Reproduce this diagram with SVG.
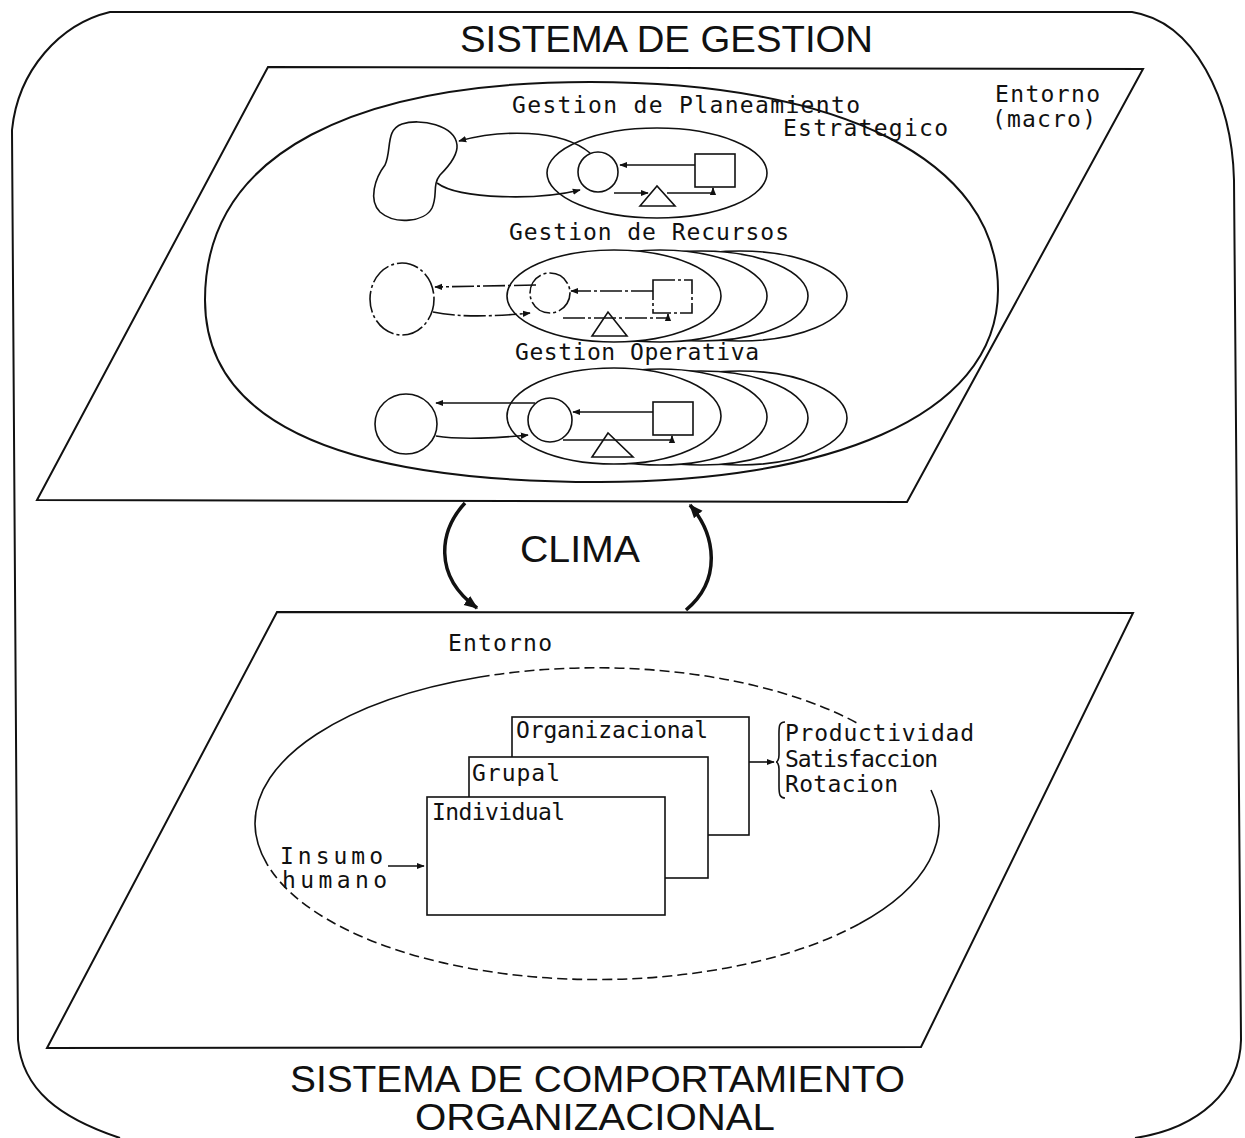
<svg xmlns="http://www.w3.org/2000/svg" width="1245" height="1138" viewBox="0 0 1245 1138">
  <defs>
    <style>
      .ln { fill: none; stroke: #111; stroke-width: 2; }
      .sm { fill: none; stroke: #111; stroke-width: 1.6; }
      .dd { stroke-dasharray: 22 3 3 3; }
      .ds { fill: none; stroke: #111; stroke-width: 1.6; stroke-dasharray: 10 5; }
      .wf { fill: #fff; stroke: #111; stroke-width: 1.6; }
      .title { font-family: "Liberation Sans", Arial, sans-serif; font-size: 36px; fill: #111; }
      .mono { font-family: "DejaVu Sans Mono", "Liberation Mono", monospace; font-size: 23px; fill: #111; }
    </style>
    <marker id="ah" viewBox="0 0 10 10" refX="9" refY="5" markerWidth="8" markerHeight="8" markerUnits="userSpaceOnUse" orient="auto">
      <path d="M0,1 L10,5 L0,9 Z" fill="#111"/>
    </marker>
    <marker id="ahb" viewBox="0 0 10 10" refX="9" refY="5" markerWidth="14" markerHeight="14" markerUnits="userSpaceOnUse" orient="auto">
      <path d="M0,1 L10,5 L0,9 Z" fill="#111"/>
    </marker>
  </defs>
  <rect width="1245" height="1138" fill="#fff"/>

  <!-- outer rounded frame -->
  <g id="frame">
    <path class="ln" d="M120 1138 C60 1118 22 1090 18 1040 L12 130 C18 70 60 24 110 12 L1132 12 C1195 22 1232 100 1234 180 L1241 1040 C1240 1090 1200 1128 1135 1138"/>
  </g>

  <!-- upper plane: management system -->
  <g id="plane-gestion">
    <polygon class="ln" points="268,67 1143,69 907,502 37,500"/>
    <text class="title" x="460" y="52" font-size="38" textLength="413" lengthAdjust="spacingAndGlyphs">SISTEMA DE GESTION</text>
    <path class="ln" d="M205 300 C205 150 360 82 590 82 C840 82 998 160 998 290 C998 420 820 482 600 482 C380 482 205 440 205 300 Z"/>
    <text class="mono" x="995" y="102" textLength="105">Entorno</text>
    <text class="mono" x="992" y="127" textLength="104">(macro)</text>
  </g>

  <!-- strategic planning -->
  <g id="planeamiento">
    <text class="mono" x="512" y="113" textLength="348">Gestion de Planeamiento</text>
    <text class="mono" x="783" y="136" textLength="165">Estrategico</text>
    <path class="sm" d="M457 145 C455 125 420 118 402 124 C385 130 392 150 385 165 C375 178 368 200 380 212 C395 225 425 222 432 208 C438 195 432 185 440 175 C450 165 458 155 457 145 Z"/>
    <ellipse class="sm" cx="657" cy="173" rx="110" ry="45"/>
    <circle class="sm" cx="598" cy="172" r="20"/>
    <rect class="sm" x="695" y="154" width="40" height="33"/>
    <polygon class="sm" points="640,206 657,186 675,206"/>
  </g>

  <!-- resources -->
  <g id="recursos">
    <text class="mono" x="509" y="240" textLength="280">Gestion de Recursos</text>
    <ellipse class="wf" cx="740" cy="296" rx="107" ry="45"/>
    <ellipse class="wf" cx="701" cy="296" rx="107" ry="45"/>
    <ellipse class="wf" cx="660" cy="296" rx="107" ry="46"/>
    <ellipse class="wf" cx="614" cy="296" rx="107" ry="46"/>
    <ellipse class="sm dd" cx="402" cy="299" rx="32" ry="36"/>
    <circle class="sm dd" cx="550" cy="293" r="20"/>
    <rect class="sm dd" x="653" y="280" width="39" height="33"/>
    <polygon class="sm" points="592,336 608,312 627,336"/>
  </g>

  <!-- operations -->
  <g id="operativa">
    <ellipse class="wf" cx="740" cy="418" rx="107" ry="47"/>
    <ellipse class="wf" cx="701" cy="418" rx="107" ry="47"/>
    <ellipse class="wf" cx="660" cy="417" rx="107" ry="48"/>
    <ellipse class="wf" cx="614" cy="416" rx="107" ry="48"/>
    <text class="mono" x="515" y="360" textLength="244">Gestion Operativa</text>
    <ellipse class="sm" cx="406" cy="424" rx="31" ry="30"/>
    <circle class="sm" cx="550" cy="420" r="22"/>
    <rect class="sm" x="653" y="402" width="40" height="33"/>
    <polygon class="sm" points="592,457 608,433 633,457"/>
  </g>

  <!-- lower plane: organisational behaviour -->
  <g id="plane-comportamiento">
    <polygon class="ln" points="277,612 1133,613 921,1047 47,1048"/>
    <text class="mono" x="448" y="651" textLength="104">Entorno</text>
    <path class="sm" d="M255 824 A342 156 0 0 1 480 677"/>
    <path class="ds" d="M480 677 A342 156 0 0 1 857 723"/>
    <path class="sm" d="M931 790 A342 156 0 0 1 859 924"/>
    <path class="ds" d="M859 924 A342 156 0 0 1 267 864"/>
    <path class="sm" d="M267 864 A342 156 0 0 1 255 824"/>
    <text class="title" x="290" y="1092" textLength="615" lengthAdjust="spacingAndGlyphs">SISTEMA DE COMPORTAMIENTO</text>
    <text class="title" x="415" y="1130" font-size="33" textLength="360" lengthAdjust="spacingAndGlyphs">ORGANIZACIONAL</text>
  </g>

  <g id="box-organizacional">
    <rect class="wf" x="512" y="717" width="237" height="118" stroke-width="2"/>
    <text class="mono" x="516" y="738" textLength="192">Organizacional</text>
  </g>
  <g id="box-grupal">
    <rect class="wf" x="469" y="757" width="239" height="121" stroke-width="2"/>
    <text class="mono" x="472" y="781" textLength="88">Grupal</text>
  </g>
  <g id="box-individual">
    <rect class="wf" x="427" y="797" width="238" height="118" stroke-width="2"/>
    <text class="mono" x="432" y="820" textLength="133">Individual</text>
  </g>
  <g id="insumo">
    <text class="mono" x="280" y="864" textLength="103">Insumo</text>
    <text class="mono" x="282" y="888" textLength="105">humano</text>
  </g>
  <g id="resultados">
    <path class="sm" d="M785 722 C778 722 779 728 779 740 L779 755 C779 760 777 762 776 762 C777 762 779 764 779 769 L779 786 C779 795 780 798 785 798"/>
    <text class="mono" x="785" y="741" textLength="189">Productividad</text>
    <text class="mono" x="785" y="767" textLength="153">Satisfaccion</text>
    <text class="mono" x="785" y="792" textLength="113">Rotacion</text>
  </g>
  <g id="clima">
    <text class="title" x="520" y="562" font-size="40" textLength="120" lengthAdjust="spacingAndGlyphs">CLIMA</text>
  </g>

  <!-- connectors -->
  <g id="connectors">
    <!-- strategic planning loop -->
    <path class="sm" d="M590 153 C560 128 500 130 459 141" marker-end="url(#ah)"/>
    <path class="sm" d="M437 183 C460 200 540 200 580 190" marker-end="url(#ah)"/>
    <path class="sm" d="M695 165 L620 165" marker-end="url(#ah)"/>
    <path class="sm" d="M614 193 L648 193" marker-end="url(#ah)"/>
    <path class="sm" d="M667 193 L713 193 L713 188" marker-end="url(#ah)"/>
    <!-- resources loop -->
    <path class="sm dd" d="M536 285 L435 287" marker-end="url(#ah)"/>
    <path class="sm dd" d="M433 312 C460 318 500 316 530 313" marker-end="url(#ah)"/>
    <path class="sm dd" d="M653 291 L571 291" marker-end="url(#ah)"/>
    <path class="sm dd" d="M563 318 L668 318 L668 314" marker-end="url(#ah)"/>
    <!-- operations loop -->
    <path class="sm" d="M535 403 L436 403" marker-end="url(#ah)"/>
    <path class="sm" d="M436 436 C460 440 500 438 528 435" marker-end="url(#ah)"/>
    <path class="sm" d="M653 412 L573 412" marker-end="url(#ah)"/>
    <path class="sm" d="M563 440 L672 440 L672 436" marker-end="url(#ah)"/>
    <!-- climate feedback between planes -->
    <path fill="none" stroke="#111" stroke-width="3.5" d="M465 503 C440 530 432 575 477 608" marker-end="url(#ahb)"/>
    <path fill="none" stroke="#111" stroke-width="3.5" d="M686 610 C722 580 716 535 690 505" marker-end="url(#ahb)"/>
    <!-- behaviour model -->
    <path class="sm" d="M388 866 L424 866" marker-end="url(#ah)"/>
    <path class="sm" d="M749 762 L774 762" marker-end="url(#ah)"/>
  </g>
</svg>
